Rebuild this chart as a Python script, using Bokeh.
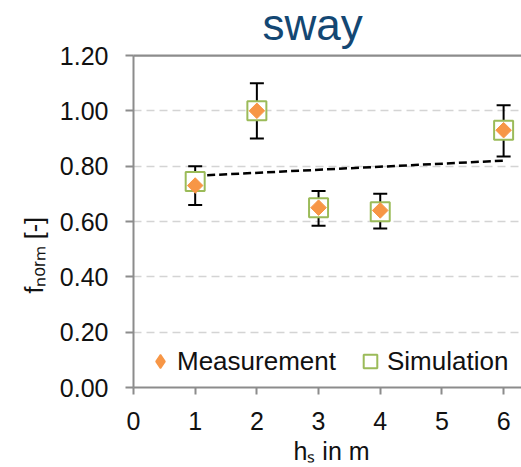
import math
from bokeh.plotting import figure
from bokeh.models import (Range1d, FixedTicker, PrintfTickFormatter, LinearAxis, Title, Span,
                          Whisker, TeeHead, ColumnDataSource, Legend, LegendItem)
from bokeh.embed import file_html
from bokeh.resources import INLINE

# ---- data ----
h_s = [1, 2, 3, 4, 6]
measurement = [0.73, 1.00, 0.65, 0.64, 0.93]
simulation = [0.745, 1.00, 0.65, 0.635, 0.93]
err_upper = [0.80, 1.10, 0.71, 0.70, 1.02]
err_lower = [0.66, 0.90, 0.585, 0.575, 0.835]
trend_x = [1, 6]
trend_y = [0.765, 0.82]
x_ticks = [0, 1, 2, 3, 4, 5, 6]
y_ticks = [0.0, 0.2, 0.4, 0.6, 0.8, 1.0, 1.2]

FONT = "Liberation Sans"
AXIS_COLOR = "#8c8c8c"
TEXT_COLOR = "#111111"
ORANGE = "#f79646"
GREEN = "#9bbb59"

p = figure(width=521, height=467, output_backend="svg", toolbar_location=None,
           x_range=Range1d(0, 6.29), y_range=Range1d(0, 1.2),
           min_border_left=133, min_border_right=0, min_border_top=55, min_border_bottom=80,
           x_axis_location=None, y_axis_location=None)
p.outline_line_color = None
p.background_fill_color = "white"
p.border_fill_color = "white"

# title
p.title.text = "sway"
p.title.align = "left"
p.title.offset = 129
p.title.vertical_align = "bottom"
p.title.standoff = -14
p.title.text_line_height = 1.0
p.title.text_font = FONT
p.title.text_font_size = "44px"
p.title.text_font_style = "normal"
p.title.text_color = "#134773"


def hidden_axis(tick_out):
    ax = LinearAxis(ticker=FixedTicker(ticks=x_ticks))
    ax.axis_line_color = None
    ax.major_tick_line_color = None
    ax.major_tick_out = tick_out
    ax.major_tick_in = 0
    ax.minor_tick_line_color = None
    ax.minor_tick_out = 0
    ax.major_label_text_color = None
    ax.major_label_text_font_size = "1px"
    ax.major_label_standoff = 0
    return ax


# axes
xaxis = LinearAxis(ticker=FixedTicker(ticks=x_ticks))
xaxis.axis_line_color = AXIS_COLOR
xaxis.axis_line_width = 2
xaxis.major_tick_line_color = AXIS_COLOR
xaxis.major_tick_line_width = 2
xaxis.major_tick_in = 0
xaxis.major_tick_out = 7
xaxis.minor_tick_line_color = None
xaxis.major_label_text_font = FONT
xaxis.major_label_text_font_size = "25px"
xaxis.major_label_text_color = TEXT_COLOR
xaxis.major_label_standoff = 17
p.add_layout(xaxis, "below")
p.add_layout(hidden_axis(4), "below")   # spacer between tick labels and axis title

yaxis = LinearAxis(ticker=FixedTicker(ticks=y_ticks), formatter=PrintfTickFormatter(format="%.2f"))
yaxis.axis_line_color = AXIS_COLOR
yaxis.axis_line_width = 2
yaxis.major_tick_line_color = AXIS_COLOR
yaxis.major_tick_line_width = 2
yaxis.major_tick_in = 0
yaxis.major_tick_out = 8
yaxis.minor_tick_line_color = None
yaxis.major_label_text_font = FONT
yaxis.major_label_text_font_size = "25px"
yaxis.major_label_text_color = TEXT_COLOR
yaxis.major_label_standoff = 17
p.add_layout(yaxis, "left")

# top border line of the plot area (axis line only) + spacer for the title
topaxis = hidden_axis(14)
topaxis.axis_line_color = AXIS_COLOR
topaxis.axis_line_width = 2
p.add_layout(topaxis, "above")
p.add_layout(Span(location=1.2, dimension="width", line_color=AXIS_COLOR, line_width=2))

# axis titles (side-panel titles for exact placement)
xlabel = Title(text="h\u209b in m", align="left", offset=160, standoff=0, vertical_align="top",
               text_line_height=1.0,
               text_font=FONT, text_font_size="25px", text_font_style="normal", text_color=TEXT_COLOR)
p.add_layout(xlabel, "below")
ylabel = Title(text="f\u2099\u2092\u1d63\u2098 [-]", align="left", offset=94, standoff=17,
               text_font=FONT, text_font_size="25px", text_font_style="normal", text_color=TEXT_COLOR)
p.add_layout(ylabel, "left")

# grid
p.xgrid.grid_line_color = None
p.ygrid.ticker = FixedTicker(ticks=y_ticks[1:-1])
p.ygrid.grid_line_color = "#d4d4d4"
p.ygrid.grid_line_width = 1.5
p.ygrid.grid_line_dash = "8 5"

src = ColumnDataSource(dict(x=h_s, m=measurement, s=simulation, up=err_upper, lo=err_lower))

# error bars
wh = Whisker(source=src, base="x", upper="up", lower="lo",
             line_color="black", line_width=2,
             upper_head=TeeHead(size=14, line_color="black", line_width=2),
             lower_head=TeeHead(size=14, line_color="black", line_width=2))
p.add_layout(wh)

# dashed trend line
p.line(trend_x, trend_y, line_color="black", line_width=2.5, line_dash="8 4")

sim_r = p.scatter("x", "s", source=src, marker="square", size=19, fill_color="white",
                  line_color=GREEN, line_width=2)
# diamond used for the legend entry (fully covered by the rhombus drawn on top)
meas_leg = p.scatter("x", "m", source=src, marker="diamond", size=13,
                     fill_color=ORANGE, line_color=ORANGE, line_width=1.5)
meas_r = p.scatter("x", "m", source=src, marker="square", angle=math.pi / 4, size=11,
                   fill_color=ORANGE, line_color=ORANGE, line_width=1)

legend = Legend(items=[LegendItem(label="Measurement", renderers=[meas_leg]),
                       LegendItem(label="Simulation", renderers=[sim_r])],
                orientation="horizontal", location=(10, 9),
                label_text_font=FONT, label_text_font_size="26px", label_text_color=TEXT_COLOR,
                glyph_width=34, glyph_height=34, label_standoff=0, spacing=17,
                padding=0, margin=0, background_fill_alpha=0, border_line_color=None)
p.add_layout(legend, "center")

open("out.html", "w").write(file_html(p, INLINE))
